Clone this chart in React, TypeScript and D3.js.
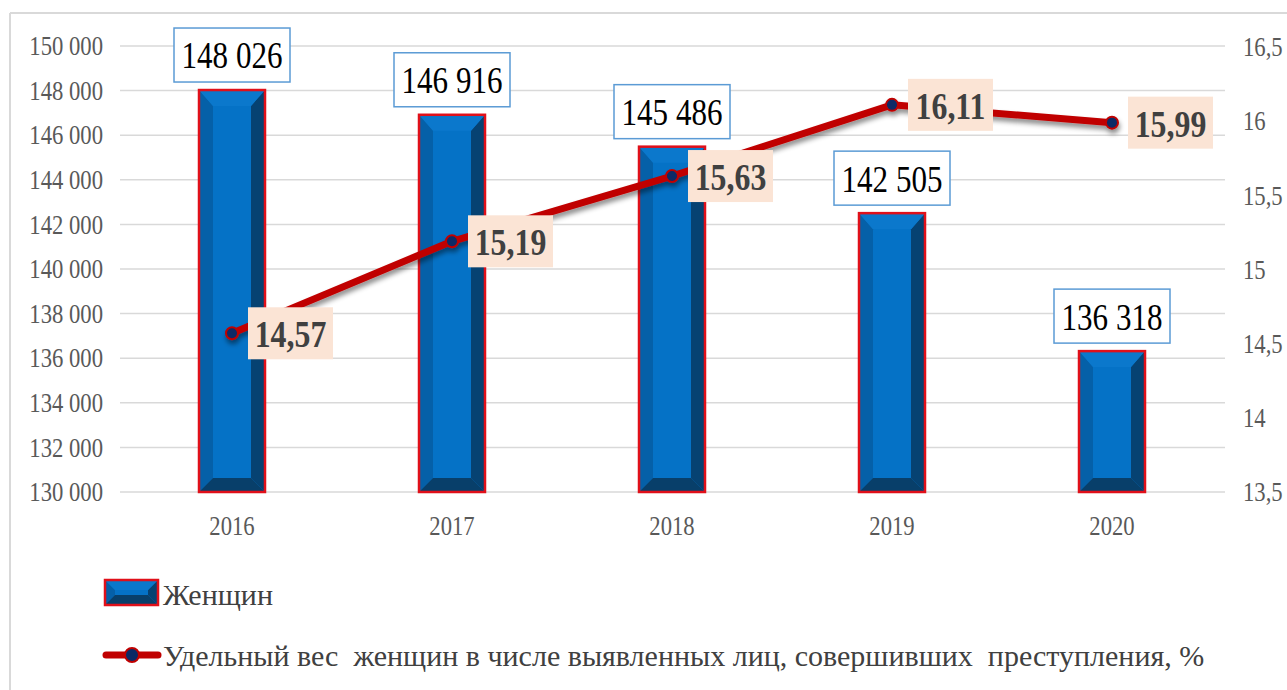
import React from "react";
import * as d3 from "d3";

const years = ["2016", "2017", "2018", "2019", "2020"];
const women = [148026, 146916, 145486, 142505, 136318];
const share = [14.57, 15.19, 15.63, 16.11, 15.99];
const womenLabels = ["148 026", "146 916", "145 486", "142 505", "136 318"];
const shareLabels = ["14,57", "15,19", "15,63", "16,11", "15,99"];
const leftTicks = [130000, 132000, 134000, 136000, 138000, 140000, 142000, 144000, 146000, 148000, 150000];
const rightTicks = [13.5, 14, 14.5, 15, 15.5, 16, 16.5];
const legendBar = "Женщин";
const legendLine = "Удельный вес  женщин в числе выявленных лиц, совершивших  преступления, %";

const W = 1287;
const H = 690;
const FONT = "'Liberation Serif', 'Times New Roman', serif";

const fmtLeft = (v: number) => d3.format(",")(v).replace(/,/g, " ");
const fmtRight = (v: number) => String(v).replace(".", ",");

function CText({ x, y, sx = 0.8, size, anchor = "middle", weight = "normal", fill = "#000", children }: any) {
  return (
    <text
      transform={`translate(${x},${y}) scale(${sx},1)`}
      fontFamily={FONT}
      fontSize={size}
      fontWeight={weight}
      textAnchor={anchor}
      dominantBaseline="central"
      fill={fill}
      style={{ whiteSpace: "pre" }}
    >
      {children}
    </text>
  );
}

function BevelBar({ x0, x1, y0, y1, bs = 14, bt = 16, bb = 14 }: any) {
  return (
    <g>
      <rect x={x0} y={y0} width={x1 - x0} height={y1 - y0} fill="#0572C6" />
      <polygon points={`${x0},${y0} ${x0 + bs},${y0 + bt} ${x0 + bs},${y1 - bb} ${x0},${y1}`} fill="#0560A8" />
      <polygon points={`${x1},${y0} ${x1 - bs},${y0 + bt} ${x1 - bs},${y1 - bb} ${x1},${y1}`} fill="#064272" />
      <polygon points={`${x0},${y0} ${x1},${y0} ${x1 - bs},${y0 + bt} ${x0 + bs},${y0 + bt}`} fill="#0B78CC" />
      <polygon points={`${x0},${y1} ${x1},${y1} ${x1 - bs},${y1 - bb} ${x0 + bs},${y1 - bb}`} fill="#083F6A" />
      <rect x={x0} y={y0} width={x1 - x0} height={y1 - y0} fill="none" stroke="#E0101A" strokeWidth={2.5} />
    </g>
  );
}

export default function App() {
  const x = d3.scaleBand<string>().domain(years).range([122, 1222]).paddingInner(0.7).paddingOuter(0.35);
  const yL = d3.scaleLinear().domain([130000, 150000]).range([492, 46]);
  const yR = d3.scaleLinear().domain([13.5, 16.5]).range([492, 47]);
  const cx = (y: string) => (x(y) as number) + x.bandwidth() / 2;

  const line = d3
    .line<number>()
    .x((_, i) => cx(years[i]))
    .y((d) => yR(d));

  return (
    <svg width={W} height={H} style={{ position: "absolute", left: 0, top: 0, background: "#fff" }}>
      <defs>
        <filter id="sh" x="-10%" y="-10%" width="120%" height="140%">
          <feDropShadow dx="1" dy="4" stdDeviation="2.5" floodColor="#000" floodOpacity="0.45" />
        </filter>
      </defs>
      <rect x={0} y={0} width={W} height={H} fill="#fff" />
      <line x1={10} x2={W} y1={13} y2={13} stroke="#D9D9D9" strokeWidth={2} />
      <line x1={10} x2={10} y1={13} y2={H} stroke="#D9D9D9" strokeWidth={2} />

      {leftTicks.map((t) => (
        <line key={t} x1={120} x2={1225} y1={yL(t)} y2={yL(t)} stroke="#D9D9D9" strokeWidth={1.5} />
      ))}

      {leftTicks.map((t) => (
        <CText key={t} x={103} y={yL(t)} size={27} anchor="end" fill="#595959" sx={0.84}>
          {fmtLeft(t)}
        </CText>
      ))}
      {rightTicks.map((t) => (
        <CText key={t} x={1243} y={yR(t)} size={27} anchor="start" fill="#595959" sx={0.84}>
          {fmtRight(t)}
        </CText>
      ))}
      {years.map((yv) => (
        <CText key={yv} x={cx(yv)} y={526} size={27} fill="#595959" sx={0.84}>
          {yv}
        </CText>
      ))}

      {women.map((v, i) => {
        const x0 = x(years[i]) as number;
        return <BevelBar key={i} x0={x0} x1={x0 + x.bandwidth()} y0={yL(v)} y1={yL(130000)} />;
      })}

      {women.map((v, i) => {
        const c = cx(years[i]);
        const bw = 116;
        const bh = 54;
        const top = yL(v) - 8 - bh;
        return (
          <g key={i}>
            <rect x={c - bw / 2} y={top} width={bw} height={bh} fill="#fff" stroke="#5B9BD5" strokeWidth={1.5} />
            <CText x={c} y={top + bh / 2 + 1} size={37} sx={0.84}>
              {womenLabels[i]}
            </CText>
          </g>
        );
      })}

      <g filter="url(#sh)">
        <path d={line(share) as string} fill="none" stroke="#C00000" strokeWidth={7} strokeLinejoin="round" />
        {share.map((v, i) => (
          <circle key={i} cx={cx(years[i])} cy={yR(v)} r={6} fill="#0B2A66" stroke="#C00000" strokeWidth={2} />
        ))}
      </g>

      {share.map((v, i) => {
        const px = cx(years[i]);
        const py = yR(v);
        const bw = 85;
        const bh = 52;
        const left = px + 16;
        return (
          <g key={i}>
            <rect x={left} y={py - bh / 2} width={bw} height={bh} fill="#FBE4D5" />
            <CText x={left + bw / 2} y={py + 1} size={37} weight="bold" fill="#404040" sx={0.86}>
              {shareLabels[i]}
            </CText>
          </g>
        );
      })}

      <BevelBar x0={105} x1={158} y0={580} y1={605} bs={10} bt={10} bb={10} />
      <CText x={163} y={594} size={30} anchor="start" fill="#404040" sx={1.0}>
        {legendBar}
      </CText>
      <line x1={106} x2={158} y1={655} y2={655} stroke="#C00000" strokeWidth={7} strokeLinecap="round" />
      <circle cx={132} cy={655} r={7} fill="#0B2A66" stroke="#C00000" strokeWidth={2} />
      <CText x={163} y={655} size={30} anchor="start" fill="#404040" sx={1.0}>
        {legendLine}
      </CText>
    </svg>
  );
}
